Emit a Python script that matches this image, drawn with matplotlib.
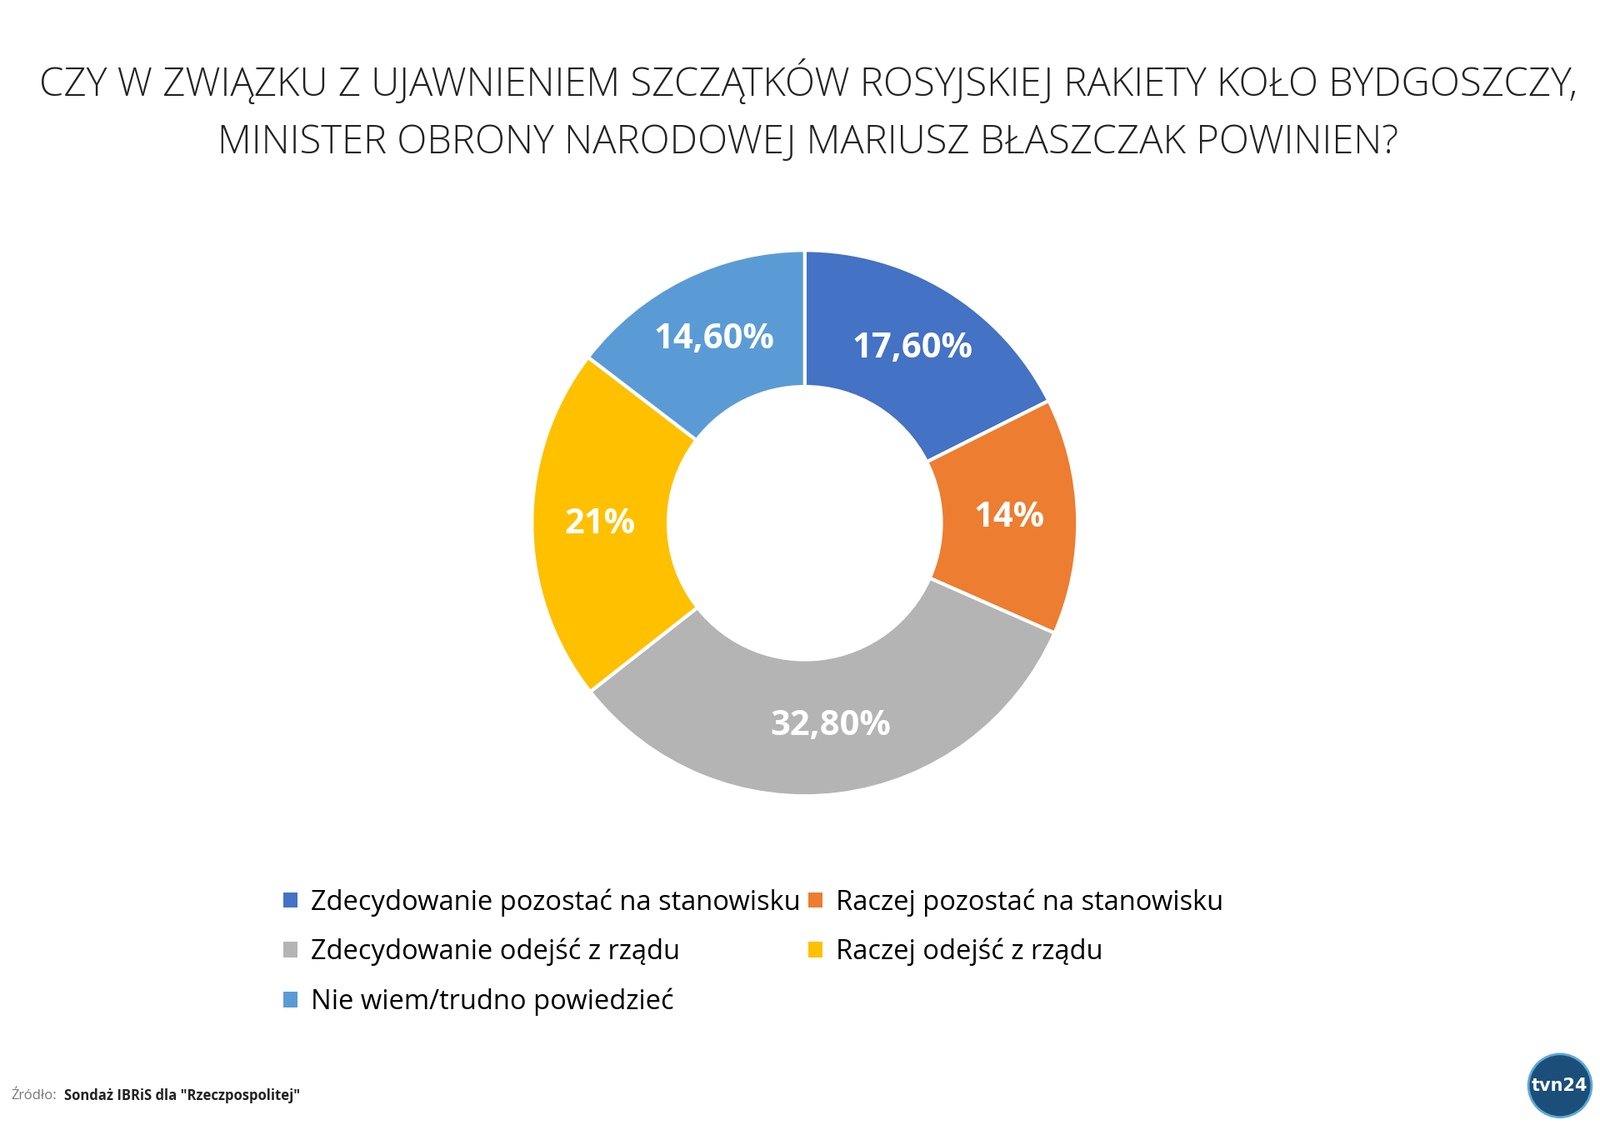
import matplotlib
matplotlib.use("Agg")
import matplotlib.pyplot as plt
from matplotlib.patches import Patch
import numpy as np

labels = ["Zdecydowanie pozostać na stanowisku", "Raczej pozostać na stanowisku",
          "Zdecydowanie odejść z rządu", "Raczej odejść z rządu",
          "Nie wiem/trudno powiedzieć"]
values = [17.6, 14.0, 32.8, 21.0, 14.6]
pct_text = ["17,60%", "14%", "32,80%", "21%", "14,60%"]
colors = ["#4472C4", "#ED7D31", "#B4B4B4", "#FFC000", "#5B9BD5"]

fig = plt.figure(figsize=(19.2, 13.5), dpi=100)
fig.patch.set_facecolor("white")

# title
fig.text(0.505, 0.926, "CZY W ZWIĄZKU Z UJAWNIENIEM SZCZĄTKÓW ROSYJSKIEJ RAKIETY KOŁO BYDGOSZCZY,",
         ha="center", va="center", fontsize=34, family="Open Sans", fontweight="light", color="#222222")
fig.text(0.505, 0.873, "MINISTER OBRONY NARODOWEJ MARIUSZ BŁASZCZAK POWINIEN?",
         ha="center", va="center", fontsize=34, family="Open Sans", fontweight="light", color="#222222")

# donut
h = 0.49
w = h * 13.5 / 19.2
ax = fig.add_axes([0.503 - w / 2, 0.535 - h / 2, w, h])
wedges, _ = ax.pie(values, colors=colors, startangle=90, counterclock=False,
                   wedgeprops=dict(width=0.5, edgecolor="white", linewidth=3))
for wdg, t in zip(wedges, pct_text):
    ang = np.deg2rad((wdg.theta1 + wdg.theta2) / 2)
    ax.text(0.75 * np.cos(ang), 0.75 * np.sin(ang), t, ha="center", va="center",
            fontsize=30, fontweight="bold", color="white", family="Open Sans")
ax.set_xlim(-1.01, 1.01)
ax.set_ylim(-1.01, 1.01)
ax.set_aspect("equal")

# legend: column-major order
order = [0, 2, 4, 1, 3]
handles = [Patch(facecolor=colors[i], edgecolor="none") for i in order]
fig.legend(handles, [labels[i] for i in order], ncol=2, frameon=False,
           loc="upper left", bbox_to_anchor=(0.162, 0.232),
           prop={"family": "Open Sans", "size": 23.5}, handlelength=0.5, handleheight=0.5,
           handletextpad=0.5, columnspacing=0.3, labelspacing=0.8)

# source
fig.text(0.007, 0.026, "Źródło:", fontsize=12, color="#777777", family="Open Sans", va="center")
fig.text(0.04, 0.026, 'Sondaż IBRiS dla "Rzeczpospolitej"', fontsize=12, fontweight="bold",
         color="#222222", family="Open Sans", va="center")

# logo
fig.text(0.975, 0.035, "tvn24", fontsize=15, fontweight="bold", color="white", ha="center",
         va="center", family="DejaVu Sans",
         bbox=dict(boxstyle="circle,pad=0.2", facecolor="#1B4F7A", edgecolor="#5DA9D6", linewidth=2))

fig.savefig("out.png", dpi=100, facecolor="white")
